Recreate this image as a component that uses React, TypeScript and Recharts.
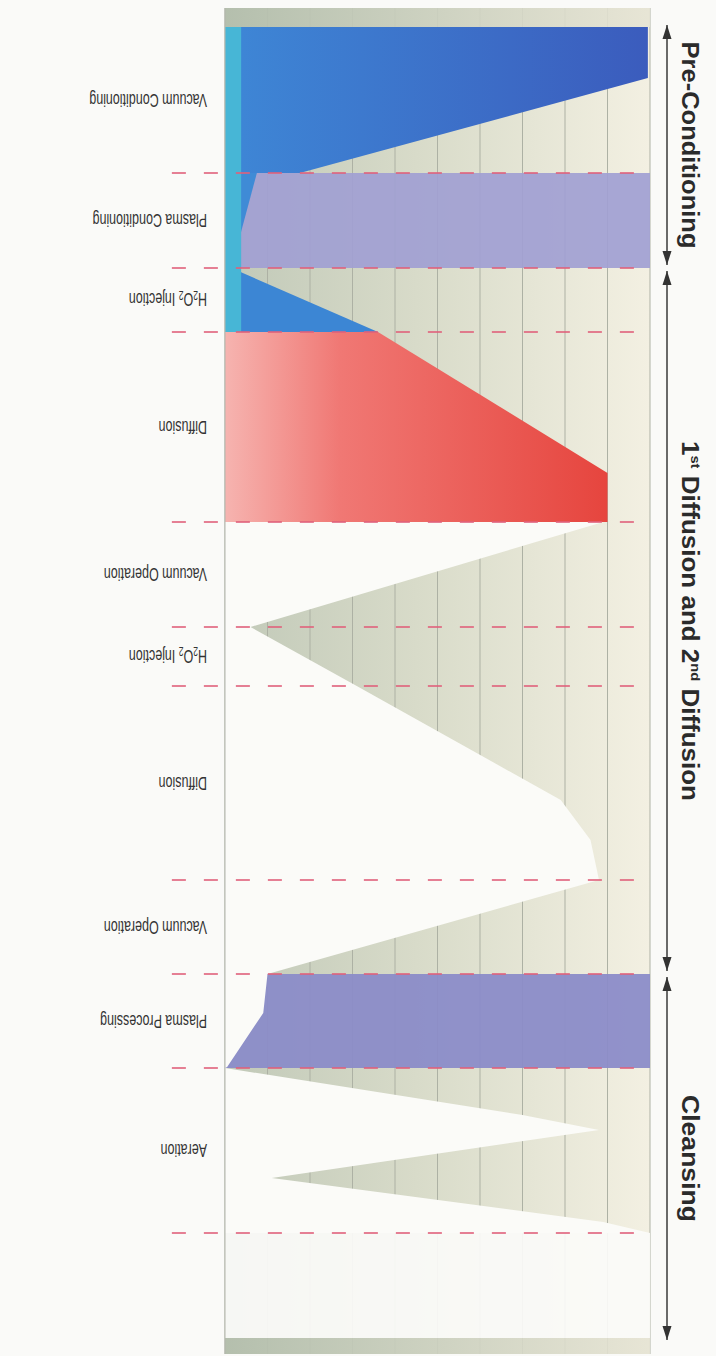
import React from 'react';
import { ComposedChart, Area, XAxis, YAxis, CartesianGrid, ReferenceLine } from 'recharts';

// The figure is a sideways scan: time runs along X (drawn top to bottom on the page),
// chamber level 0–100 runs along Y (drawn left to right). The whole chart is rotated 90°.

const stepNames = [
  'Vacuum Conditioning',
  'Plasma Conditioning',
  'H2O2 Injection',
  'Diffusion',
  'Vacuum Operation',
  'H2O2 Injection',
  'Diffusion',
  'Vacuum Operation',
  'Plasma Processing',
  'Aeration',
];
const stepStarts = [19, 165, 260, 324, 514, 619, 678, 872, 966, 1060];
const stepEnds = [165, 260, 324, 514, 619, 678, 872, 966, 1060, 1225];

const phaseNames = ['Pre-Conditioning', '1st Diffusion and 2nd Diffusion', 'Cleansing'];
const phaseStarts = [17, 263, 969];
const phaseEnds = [257, 963, 1332];

const valueTicks = [0, 10, 20, 30, 40, 50, 60, 70, 80, 90, 100];

const topStrip = [{ t: 0, v: 100 }, { t: 19, v: 100 }];
const bottomStrip = [{ t: 1330, v: 100 }, { t: 1346, v: 100 }];
const vacuumConditioning = [{ t: 19, v: 99.5 }, { t: 70, v: 99.5 }, { t: 165, v: 17.6 }];
const plasmaConditioning = [{ t: 165, v: 100 }, { t: 260, v: 100 }];
const plasmaCondPressure = [{ t: 165, v: 7.5 }, { t: 260, v: 1.5 }];
const h2o2Injection1 = [{ t: 260, v: 1.5 }, { t: 324, v: 36 }];
const cyanStrip = [{ t: 19, v: 3.8 }, { t: 324, v: 3.8 }];
const diffusion1 = [{ t: 324, v: 36 }, { t: 465, v: 90 }, { t: 514, v: 90 }];
const plasmaProcessing = [{ t: 966, v: 100 }, { t: 1060, v: 100 }];
const openPressure = [
  { t: 514, v: 89 }, { t: 619, v: 6 }, { t: 678, v: 31 }, { t: 792, v: 79 }, { t: 832, v: 86 },
  { t: 872, v: 88 }, { t: 966, v: 10 }, { t: 1005, v: 9 }, { t: 1059, v: 0.5 }, { t: 1060, v: 0 },
  { t: 1107, v: 70 }, { t: 1122, v: 88 }, { t: 1170, v: 11 }, { t: 1214, v: 89 }, { t: 1225, v: 100 },
];
const afterCycle = [{ t: 1225, v: 100 }, { t: 1330, v: 100 }];

const FONT = '"Liberation Sans", Arial, Helvetica, sans-serif';
const LABEL_Y = 509;
const PHASE_TEXT_LENGTH = [207, 360, 127];

// "H2O2" -> subscript digits
function subDigits(name: string) {
  if (!/\d/.test(name)) return name;
  const parts = name.split(/(\d)/).filter((p) => p !== '');
  return parts.map((p, i) =>
    /^\d$/.test(p) ? (
      <tspan key={i} fontSize={8.5} dy={3}>{p}</tspan>
    ) : (
      <tspan key={i} dy={i > 0 ? -3 : 0}>{p}</tspan>
    )
  );
}

// "1st" / "2nd" -> superscript suffix
function superOrdinals(name: string) {
  const parts = name.split(/(\d)(st|nd|rd|th)\b/);
  const out: React.ReactNode[] = [];
  let lifted = false;
  for (let i = 0; i < parts.length; i++) {
    const p = parts[i];
    if (!p) continue;
    if (/^(st|nd|rd|th)$/.test(p)) {
      out.push(<tspan key={i} fontSize={13} dy={-9}>{p}</tspan>);
      lifted = true;
    } else {
      out.push(<tspan key={i} dy={lifted ? 9 : 0}>{p}</tspan>);
      lifted = false;
    }
  }
  return out;
}

const StepTick = (props: any) => {
  const { x, index } = props;
  const name = stepNames[index];
  return (
    <g transform={`translate(${x},${LABEL_Y}) rotate(90) scale(1,1.45)`}>
      <text x={0} y={0} textAnchor="start" dominantBaseline="central" fontSize={12.5} fill="#333" fontFamily={FONT}>
        {subDigits(name)}
      </text>
    </g>
  );
};

const renderPhase = (p: any, i: number) => {
  const { x1, x2, y1 } = p;
  const head = 14;
  const hw = 4.5;
  return (
    <g>
      <line x1={x1} y1={y1} x2={x2} y2={y1} stroke="#3a3a3a" strokeWidth={1.5} />
      <polygon points={`${x1},${y1} ${x1 + head},${y1 - hw} ${x1 + head},${y1 + hw}`} fill="#333" />
      <polygon points={`${x2},${y1} ${x2 - head},${y1 - hw} ${x2 - head},${y1 + hw}`} fill="#333" />
      <text
        x={(x1 + x2) / 2}
        y={y1 - 15}
        textAnchor="middle"
        fontSize={23}
        fontWeight="bold"
        fill="#2b2b2b"
        fontFamily={FONT}
        textLength={PHASE_TEXT_LENGTH[i]}
        lengthAdjust="spacingAndGlyphs"
      >
        {superOrdinals(phaseNames[i])}
      </text>
    </g>
  );
};

export default function App() {
  const stepCenters = stepStarts.map((s, i) => (s + stepEnds[i]) / 2);

  return (
    <div style={{ position: 'absolute', left: 0, top: 0, width: 716, height: 1356, overflow: 'hidden', background: '#fafaf8' }}>
      <div style={{ position: 'absolute', left: 0, top: 0, width: 1356, height: 716, transformOrigin: '0 0', transform: 'translate(716px, 0) rotate(90deg)' }}>
        <ComposedChart width={1356} height={716} margin={{ top: 66, right: 2, bottom: 205, left: 8 }}>
          <defs>
            <linearGradient id="bgGrad" x1="0" y1="1" x2="0" y2="0">
              <stop offset="0%" stopColor="#c1c9b8" />
              <stop offset="45%" stopColor="#d8dbc9" />
              <stop offset="100%" stopColor="#f3f0e2" />
            </linearGradient>
            <linearGradient id="stripGrad" x1="0" y1="1" x2="0" y2="0">
              <stop offset="0%" stopColor="#b3beac" />
              <stop offset="100%" stopColor="#e6e4d4" />
            </linearGradient>
            <linearGradient id="vcGrad" x1="0" y1="1" x2="0" y2="0">
              <stop offset="0%" stopColor="#3e87d6" />
              <stop offset="100%" stopColor="#3b5cbd" />
            </linearGradient>
            <linearGradient id="redGrad" x1="0" y1="1" x2="0" y2="0">
              <stop offset="0%" stopColor="#f6b4b0" />
              <stop offset="30%" stopColor="#f07874" />
              <stop offset="100%" stopColor="#e6453e" />
            </linearGradient>
          </defs>

          <XAxis
            type="number"
            dataKey="t"
            domain={[0, 1346]}
            ticks={stepCenters}
            interval={0}
            tickLine={false}
            tickSize={0}
            height={20}
            axisLine={{ stroke: '#b3b6ad' }}
            tick={<StepTick />}
            allowDataOverflow
          />
          <YAxis type="number" dataKey="v" domain={[0, 100]} hide allowDataOverflow />
          <CartesianGrid vertical={false} horizontalValues={valueTicks} stroke="#adb1a4" fill="url(#bgGrad)" fillOpacity={1} />

          <Area data={topStrip} dataKey="v" type="linear" stroke="none" fill="url(#stripGrad)" fillOpacity={0.9} isAnimationActive={false} />
          <Area data={vacuumConditioning} dataKey="v" type="linear" stroke="none" fill="url(#vcGrad)" fillOpacity={1} isAnimationActive={false} />
          <Area data={plasmaConditioning} dataKey="v" type="linear" stroke="none" fill="#a19fd2" fillOpacity={0.92} isAnimationActive={false} />
          <Area data={plasmaCondPressure} dataKey="v" type="linear" stroke="none" fill="#3f8bd6" fillOpacity={1} isAnimationActive={false} />
          <Area data={h2o2Injection1} dataKey="v" type="linear" stroke="none" fill="#3c86d4" fillOpacity={1} isAnimationActive={false} />
          <Area data={diffusion1} dataKey="v" type="linear" stroke="none" fill="url(#redGrad)" fillOpacity={1} isAnimationActive={false} />
          <Area data={plasmaProcessing} dataKey="v" type="linear" stroke="none" fill="#8b8cc8" fillOpacity={0.95} isAnimationActive={false} />
          <Area data={openPressure} dataKey="v" type="linear" stroke="none" fill="#fbfbf8" fillOpacity={1} isAnimationActive={false} />
          <Area data={afterCycle} dataKey="v" type="linear" stroke="none" fill="#fbfbf8" fillOpacity={0.92} isAnimationActive={false} />
          <Area data={bottomStrip} dataKey="v" type="linear" stroke="none" fill="url(#stripGrad)" fillOpacity={0.9} isAnimationActive={false} />
          <Area data={cyanStrip} dataKey="v" type="linear" stroke="none" fill="#47b6d6" fillOpacity={1} isAnimationActive={false} />

          {stepEnds.map((t) => (
            <ReferenceLine
              key={`b-${t}`}
              segment={[{ x: t, y: -12.5 }, { x: t, y: 100 }]}
              stroke="#e0607a"
              strokeOpacity={0.8}
              strokeWidth={2}
              strokeDasharray="14 18"
              ifOverflow="visible"
            />
          ))}

          {phaseNames.map((name, i) => (
            <ReferenceLine
              key={name}
              segment={[{ x: phaseStarts[i], y: 104 }, { x: phaseEnds[i], y: 104 }]}
              ifOverflow="visible"
              shape={(p: any) => renderPhase(p, i)}
            />
          ))}
        </ComposedChart>
      </div>
    </div>
  );
}
